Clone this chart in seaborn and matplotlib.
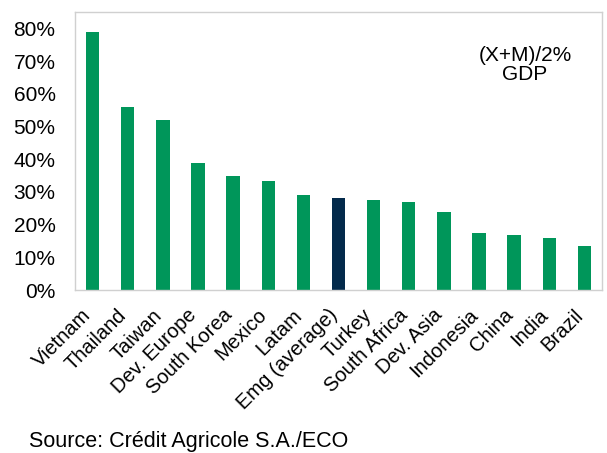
import matplotlib
matplotlib.use("Agg")
import matplotlib.pyplot as plt
import matplotlib.transforms as mtransforms
import seaborn as sns
import pandas as pd
from matplotlib.ticker import FuncFormatter

categories = ["Vietnam", "Thailand", "Taiwan", "Dev. Europe", "South Korea", "Mexico",
              "Latam", "Emg (average)", "Turkey", "South Africa", "Dev. Asia",
              "Indonesia", "China", "India", "Brazil"]
values = [78.8, 55.9, 52.0, 38.7, 34.9, 33.4, 29.1, 28.1, 27.4, 26.9, 23.8,
          17.4, 16.8, 15.8, 13.4]
yticks = [0, 10, 20, 30, 40, 50, 60, 70, 80]

green = "#00965A"
navy = "#032A4B"
palette = [navy if c == "Emg (average)" else green for c in categories]

sns.set_theme(style="white")
plt.rcParams["font.family"] = ["Liberation Sans", "DejaVu Sans"]

df = pd.DataFrame({"cat": categories, "val": values})

fig = plt.figure(figsize=(6.07, 4.53), dpi=100)
ax = fig.add_axes([75 / 607, 1 - 290 / 453, (602 - 75) / 607, (290 - 12) / 453])

sns.barplot(data=df, x="cat", y="val", hue="cat", palette=palette, legend=False,
            width=0.38, ax=ax, saturation=1, linewidth=0)

ax.set_ylim(0, 85)
ax.set_xlim(-0.5, len(categories) - 0.5)
ax.set_yticks(yticks)
ax.yaxis.set_major_formatter(FuncFormatter(lambda v, p: f"{int(v)}%"))
ax.set_xlabel("")
ax.set_ylabel("")
ax.tick_params(axis="y", length=0, labelsize=15, colors="black", pad=14)
ax.tick_params(axis="x", length=0, labelsize=14.5, colors="black", pad=4)
offset = mtransforms.ScaledTranslation(-11 / 100, -10 / 100, fig.dpi_scale_trans)
for lab in ax.get_xticklabels():
    lab.set_rotation(45)
    lab.set_ha("right")
    lab.set_va("top")
    lab.set_rotation_mode("anchor")
    lab.set_transform(lab.get_transform() + offset)

for s in ax.spines.values():
    s.set_visible(True)
    s.set_color("#d0d0d0")
    s.set_linewidth(1.0)

fig.text(525 / 607, 1 - 65 / 453, "(X+M)/2%\nGDP", ha="center", va="center",
         fontsize=15, linespacing=0.97, color="black")
fig.text(29 / 607, 1 - 441 / 453, "Source: Crédit Agricole S.A./ECO", ha="left",
         va="center", fontsize=15.5, color="black")

fig.savefig("out.png", dpi=100)
